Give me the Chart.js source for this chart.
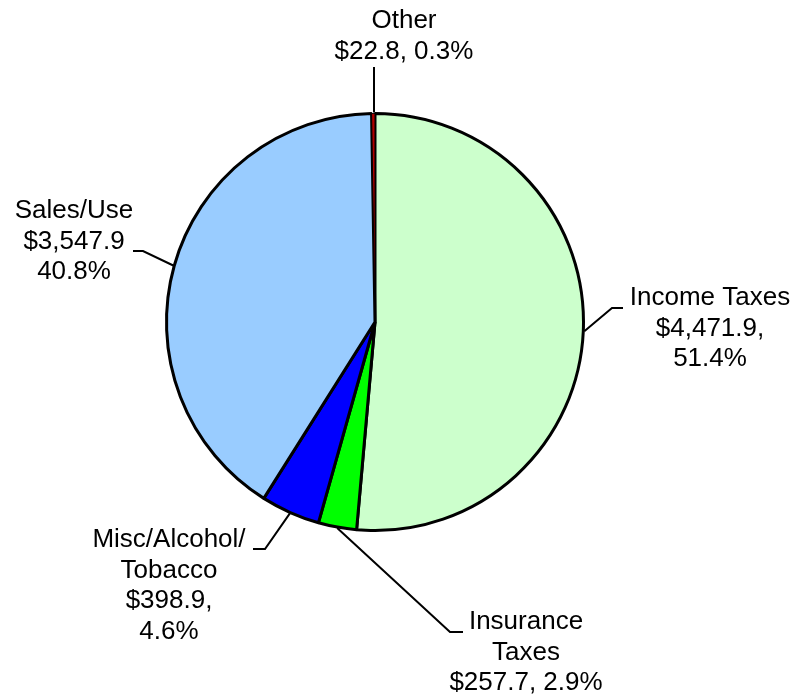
<!DOCTYPE html>
<html>
<head>
<meta charset="utf-8">
<title>Revenue by Source</title>
<script src="https://cdn.jsdelivr.net/npm/chart.js@4/dist/chart.umd.min.js"></script>
<style>
  html, body { margin: 0; padding: 0; background: #fff; }
  #wrap { width: 800px; height: 699px; position: relative; }
</style>
</head>
<body>
<div id="wrap"><canvas id="revenuePie"></canvas></div>
<script>
// data (millions)
const categories = ["Income Taxes", "Insurance Taxes", "Misc/Alcohol/Tobacco", "Sales/Use", "Other"];
const amounts = [4471.9, 257.7, 398.9, 3547.9, 22.8];
const labelLines = [
  ["Income Taxes", "$4,471.9,", "51.4%"],
  ["Insurance", "Taxes", "$257.7, 2.9%"],
  ["Misc/Alcohol/", "Tobacco", "$398.9,", "4.6%"],
  ["Sales/Use", "$3,547.9", "40.8%"],
  ["Other", "$22.8, 0.3%"]
];
const sliceColors = ["#CCFFCC", "#00FF00", "#0000FF", "#99CCFF", "#B00000"];

// where each callout sits: leader elbow, leader end, text centre x, first text row y
const calloutLayout = [
  { elbow: [612, 308], end: [623, 308], tx: 710, ty: 298 },
  { elbow: [450, 632], end: [463, 632], tx: 526, ty: 622 },
  { elbow: [265, 549], end: [253, 549], tx: 169, ty: 540 },
  { elbow: [143, 251], end: [133, 251], tx: 74, ty: 211 },
  { elbow: null, end: [374, 67], tx: 404, ty: 21 }
];

// draws the leader lines and text next to each slice
const calloutPlugin = {
  id: "callouts",
  afterDatasetsDraw(chart) {
    const ctx = chart.ctx;
    const arcs = chart.getDatasetMeta(0).data;
    ctx.save();
    ctx.strokeStyle = "#000";
    ctx.lineWidth = 2;
    ctx.fillStyle = "#000";
    ctx.font = "26px 'Liberation Sans', Arial, sans-serif";
    ctx.textAlign = "center";
    ctx.textBaseline = "middle";
    arcs.forEach((arc, i) => {
      const p = arc.getProps(["x", "y", "startAngle", "endAngle", "outerRadius"], true);
      const mid = (p.startAngle + p.endAngle) / 2;
      const r = p.outerRadius + 1;
      const lay = calloutLayout[i];
      let sx = p.x + Math.cos(mid) * r;
      const sy = p.y + Math.sin(mid) * r;
      if (!lay.elbow) sx = lay.end[0]; // straight vertical leader
      ctx.beginPath();
      ctx.moveTo(sx, sy);
      if (lay.elbow) ctx.lineTo(lay.elbow[0], lay.elbow[1]);
      ctx.lineTo(lay.end[0], lay.end[1]);
      ctx.stroke();
      labelLines[i].forEach((line, k) => {
        ctx.fillText(line, lay.tx, lay.ty + k * 30.5);
      });
    });
    ctx.restore();
  }
};

const ctx = document.getElementById("revenuePie").getContext("2d");
new Chart(ctx, {
  type: "pie",
  data: {
    labels: categories,
    datasets: [
      {
        data: amounts,
        backgroundColor: sliceColors,
        borderColor: "#000",
        // thin outline on the tiny slice so its red still shows
        borderWidth: [3, 3, 3, 3, 1],
      },
    ],
  },
  options: {
    responsive: true,
    maintainAspectRatio: false,
    animation: false,
    layout: {
      padding: { top: 112, bottom: 167, left: 100, right: 150 },
    },
    plugins: {
      legend: { display: false },
      tooltip: { enabled: false },
    },
  },
  plugins: [calloutPlugin],
});
</script>
</body>
</html>
